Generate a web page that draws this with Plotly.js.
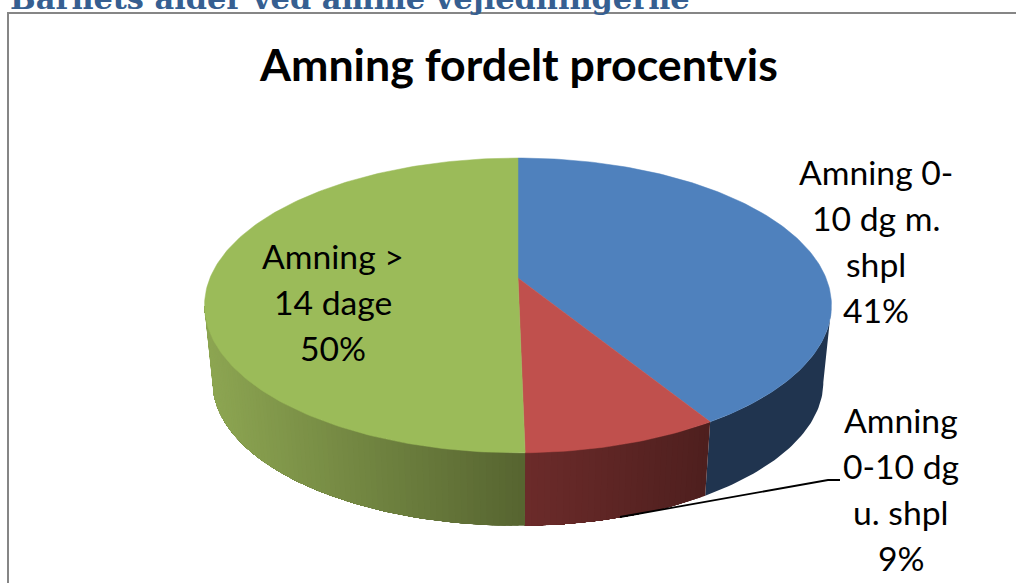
<!DOCTYPE html>
<html><head><meta charset="utf-8">
<script src="https://cdn.plot.ly/plotly-3.0.1.min.js"></script>
<style>html,body{margin:0;padding:0;background:#fff;overflow:hidden}#c{width:1016px;height:583px}</style>
</head><body><div id="c"></div>
<script>
const categories = ["Amning 0-10 dg m. shpl", "Amning 0-10 dg u. shpl", "Amning > 14 dage"];
const values = [41.2, 8.5, 50.3];
const topColors = ["#4f81bd", "#c0504d", "#9bbb59"];
const sideDark = [[32,52,79],[78,31,30],[86,100,48]];
const sideLight = [[32,52,79],[108,43,42],[141,166,82]];
const labelLines = [["Amning 0-","10 dg m.","shpl"],["Amning","0-10 dg","u. shpl"],["Amning >","14 dage"]];

const cx=518, cyTop=278, A=308, B=142.3, k=0.186;
const cyBot=355.5, s=0.974;
const rad=d=>d*Math.PI/180;
function topPt(t){const u=Math.sin(rad(t)),v=Math.cos(rad(t)),w=1+k*v;return [cx+A*u/w,cyTop-B*v/w];}
function botPt(t){const u=Math.sin(rad(t)),v=Math.cos(rad(t)),w=1+k*v;return [cx+s*A*u/w,cyBot-s*B*v/w];}
const total=values.reduce((a,b)=>a+b,0);
const traces=[];
let bounds=[0];values.forEach(v=>bounds.push(bounds[bounds.length-1]+v/total*360));
const tMin=100.7,tMax=259.3;
function mix(a,b,f){return `rgb(${a.map((x,i)=>Math.round(x+(b[i]-x)*f)).join(",")})`;}
function arcPts(fn,a,b){const n=Math.max(2,Math.ceil(b-a));const r=[];for(let j=0;j<=n;j++)r.push(fn(a+(b-a)*j/n));return r;}
// sides: each strip runs on to the end of its sector, so later strips overlap it and leave no seams
values.forEach((v,i)=>{
  const a=Math.max(bounds[i],tMin),b=Math.min(bounds[i+1],tMax);
  if(b<=a)return;
  const n=i===0?1:Math.ceil(b-a);
  const xa=topPt(a)[0],xb=topPt(b)[0];
  for(let j=0;j<n;j++){
    const t0=a+(b-a)*j/n;
    const xm=topPt(a+(b-a)*(j+.5)/n)[0];
    const f=(xm-xa)/(xb-xa);
    const col=i===1?mix(sideDark[1],sideLight[1],f):mix(sideDark[i],sideLight[i],f);
    const pts=arcPts(topPt,t0,b).concat(arcPts(botPt,t0,b).reverse());
    pts.push(pts[0]);
    traces.push({type:"scatter",mode:"lines",x:pts.map(p=>p[0]),y:pts.map(p=>p[1]),fill:"toself",fillcolor:col,line:{color:col,width:0},hoverinfo:"skip",showlegend:false});
  }
});
// top faces
values.forEach((v,i)=>{
  const pts=[[cx,cyTop]].concat(arcPts(topPt,bounds[i],bounds[i+1]),[[cx,cyTop]]);
  traces.push({type:"scatter",mode:"lines",x:pts.map(p=>p[0]),y:pts.map(p=>p[1]),fill:"toself",fillcolor:topColors[i],line:{color:topColors[i],width:0.5},name:categories[i],hoverinfo:"name",showlegend:false});
});
// leader line
traces.push({type:"scatter",mode:"lines",x:[620,828,840],y:[517,480,480],line:{color:"#000",width:1.8},hoverinfo:"skip",showlegend:false});

const lf={family:"Lato, 'Open Sans', sans-serif",size:33.7,color:"#000"};
function lbl(text,x,y){return {text,x,y,xref:"x",yref:"y",showarrow:false,font:lf,xanchor:"center",yanchor:"middle",align:"center"};}
const pct=values.map(v=>Math.round(v)+"%");
const blockLines=(i)=>labelLines[i].concat(pct[i]);
const annos=[];
const pos=[[876,[172,218,264,310]],[901,[420,466,512,558]],[333,[256,302,348]]];
pos.forEach(([x,ys],i)=>blockLines(i).forEach((t,j)=>annos.push(lbl(t,x,ys[j]))));
annos.push({text:"Amning fordelt procentvis",x:518,y:64,xref:"x",yref:"y",showarrow:false,xanchor:"center",yanchor:"middle",font:{family:"Lato, 'Open Sans', sans-serif",size:44.7,color:"#000",weight:700}});
annos.push({text:"Barnets alder ved amme vejledningerne",x:8,y:1+2/583,xref:"x",yref:"paper",showarrow:false,xanchor:"left",yanchor:"middle",font:{family:"'DejaVu Serif', serif",size:30.4,color:"#365f91",weight:700}});

const layout={width:1016,height:583,margin:{l:0,r:0,t:0,b:0},paper_bgcolor:"#fff",plot_bgcolor:"#fff",showlegend:false,
 xaxis:{range:[0,1016],visible:false,fixedrange:true},
 yaxis:{range:[583,0],visible:false,fixedrange:true},
 shapes:[{type:"rect",xref:"x",yref:"y",x0:8,y0:13,x1:1100,y1:700,line:{color:"#868686",width:2},layer:"below"}],
 annotations:annos};
Plotly.newPlot("c",traces,layout,{displayModeBar:false,staticPlot:true});
</script></body></html>
